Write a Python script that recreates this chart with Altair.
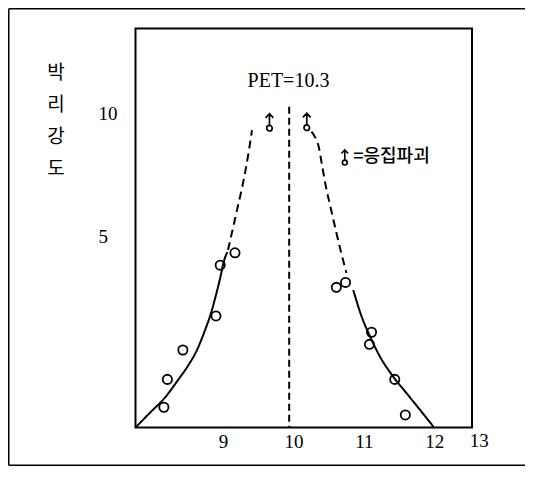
import altair as alt
import pandas as pd

# ---------------- data ----------------
x_ticks = [9, 10, 11, 12]
y_ticks = [5, 10]
x_extra_label = ["13"]
x_extra_pos = [12.64]

# measured circles
pts_x = [8.16, 8.21, 8.43, 8.90, 8.96, 9.17, 10.61, 10.74, 11.11, 11.08, 11.44, 11.59]
pts_y = [-1.91, -0.78, 0.41, 1.79, 3.85, 4.35, 2.95, 3.15, 1.13, 0.64, -0.78, -2.22]

# fitted curves
left_solid_x = [7.764, 7.96, 8.18, 8.36, 8.50, 8.63, 8.74, 8.83, 8.90, 8.96, 9.01, 9.06]
left_solid_y = [-2.71, -2.14, -1.50, -0.81, -0.24, 0.41, 1.18, 1.91, 2.64, 3.33, 3.98, 4.38]
left_dash_x = [9.071, 9.135, 9.199, 9.263, 9.320, 9.369, 9.412]
left_dash_y = [4.46, 5.27, 6.08, 6.89, 7.70, 8.51, 9.32]
right_dash_x = [10.257, 10.307, 10.357, 10.406, 10.463, 10.534, 10.605, 10.676, 10.754]
right_dash_y = [9.26, 9.04, 8.68, 7.91, 7.01, 6.12, 5.23, 4.38, 3.53]
right_solid_x = [10.85, 10.97, 11.09, 11.23, 11.40, 11.61, 11.80, 11.99]
right_solid_y = [2.84, 1.76, 0.95, 0.14, -0.60, -1.35, -2.02, -2.70]

# PET marker line
pet_x = [9.94]
pet_top = [10.27]
pet_label = ["PET=10.3"]
pet_label_x = [9.93]
pet_label_y = [11.32]

# cohesive failure markers
fail_x = [9.66, 10.19]
fail_y = [9.63, 9.65]
legend_sym_x = [10.73]
legend_sym_y = [8.21]
legend_text = ["=응집파괴"]
legend_text_x = [10.85]
legend_text_y = [8.22]

y_title = ["박", "리", "강", "도"]

X_DOM = [7.757, 12.537]
Y_DOM = [-2.73, 13.44]

# ---------------- chart ----------------
xs = alt.Scale(domain=X_DOM, nice=False, zero=False)
ys = alt.Scale(domain=Y_DOM, nice=False, zero=False)

SERIF = "Liberation Serif"
KR = "Noto Sans CJK KR"

rows = []
for seg, style, xa, ya in [
    ("ls", "solid", left_solid_x, left_solid_y),
    ("ld", "dashed", left_dash_x, left_dash_y),
    ("rd", "dashed", right_dash_x, right_dash_y),
    ("rs", "solid", right_solid_x, right_solid_y),
]:
    for a, b in zip(xa, ya):
        rows.append({"seg": seg, "style": style, "x": a, "y": b})
curves = pd.DataFrame(rows)

x_axis = alt.Axis(values=x_ticks, format="d", title=None, grid=False, domain=False, ticks=False,
                  tickSize=0, labelFont=SERIF, labelFontSize=19, labelColor="black",
                  labelPadding=13.5, labelBaseline="middle", labelFlush=False,
                  labelOverlap=False)
y_axis = alt.Axis(values=y_ticks, format="d", title=y_title, titleAngle=0, titleX=-80,
                  titleY=43.5, titleAlign="center", titleBaseline="middle",
                  titleLineHeight=32.2, titleFont=KR, titleFontSize=19,
                  titleFontWeight="normal", titleColor="black", grid=False, domain=False,
                  ticks=False, tickSize=0, labelFont=SERIF, labelFontSize=19,
                  labelColor="black", labelAlign="left", labelPadding=37.5,
                  labelBaseline="middle", labelOverlap=False)

lines = alt.Chart(curves).mark_line(color="black", strokeWidth=2, interpolate="monotone").encode(
    x=alt.X("x:Q", scale=xs, axis=x_axis),
    y=alt.Y("y:Q", scale=ys, axis=y_axis),
    detail="seg:N",
    strokeDash=alt.StrokeDash("style:N",
                              scale=alt.Scale(domain=["solid", "dashed"], range=[[1, 0], [8, 5]]),
                              legend=None),
)

pet_df = pd.DataFrame({"x": pet_x, "y": pet_top, "y2": [Y_DOM[0]]})
pet_rule = alt.Chart(pet_df).mark_rule(color="black", strokeWidth=2, strokeDash=[7, 4]).encode(
    x=alt.X("x:Q", scale=xs), y=alt.Y("y:Q", scale=ys), y2="y2:Q")

pts = alt.Chart(pd.DataFrame({"x": pts_x, "y": pts_y})).mark_point(
    shape="circle", filled=False, color="black", strokeWidth=1.8, size=85, opacity=1
).encode(x=alt.X("x:Q", scale=xs), y=alt.Y("y:Q", scale=ys))

FAIL_PATH = ("M -0.42 -0.5 L 0 -0.95 L 0.42 -0.5 M 0 -0.95 L 0 0.32 "
             "A 0.3 0.3 0 1 1 0 0.92 A 0.3 0.3 0 1 1 0 0.32")
fails = alt.Chart(pd.DataFrame({"x": fail_x, "y": fail_y})).mark_point(
    shape=FAIL_PATH, filled=False, color="black", strokeWidth=1.7, size=340, opacity=1
).encode(x=alt.X("x:Q", scale=xs), y=alt.Y("y:Q", scale=ys))

leg_sym = alt.Chart(pd.DataFrame({"x": legend_sym_x, "y": legend_sym_y})).mark_point(
    shape=FAIL_PATH, filled=False, color="black", strokeWidth=1.6, size=260, opacity=1
).encode(x=alt.X("x:Q", scale=xs), y=alt.Y("y:Q", scale=ys))

leg_txt = alt.Chart(pd.DataFrame({"x": legend_text_x, "y": legend_text_y, "t": legend_text})).mark_text(
    font=KR, fontSize=18, fontWeight=500, color="black", align="left", baseline="middle"
).encode(x=alt.X("x:Q", scale=xs), y=alt.Y("y:Q", scale=ys), text="t:N")

pet_txt = alt.Chart(pd.DataFrame({"x": pet_label_x, "y": pet_label_y, "t": pet_label})).mark_text(
    font=SERIF, fontSize=20, color="black", align="center", baseline="middle"
).encode(x=alt.X("x:Q", scale=xs), y=alt.Y("y:Q", scale=ys), text="t:N")

extra_lbl = alt.Chart(pd.DataFrame({"x": x_extra_pos, "y": [Y_DOM[0]], "t": x_extra_label})).mark_text(
    font=SERIF, fontSize=19, color="black", align="center", baseline="middle", dy=13.5
).encode(x=alt.X("x:Q", scale=xs), y=alt.Y("y:Q", scale=ys), text="t:N")

# outer page frame: left, top and bottom sides only
dummy = pd.DataFrame({"a": [0]})
frame_top = alt.Chart(dummy).mark_rule(color="black", strokeWidth=1.5).encode(
    x=alt.value(-126.75), x2=alt.value(389.5), y=alt.value(-19.75), y2=alt.value(-19.75))
frame_left = alt.Chart(dummy).mark_rule(color="black", strokeWidth=1.5).encode(
    x=alt.value(-126.75), x2=alt.value(-126.75), y=alt.value(-19.75), y2=alt.value(436.75))
frame_bottom = alt.Chart(dummy).mark_rule(color="black", strokeWidth=1.5).encode(
    x=alt.value(-126.75), x2=alt.value(389.5), y=alt.value(436.75), y2=alt.value(436.75))

chart = alt.layer(
    lines, pet_rule, pts, fails, leg_sym, leg_txt, pet_txt, extra_lbl,
    frame_top, frame_left, frame_bottom
).properties(
    width=336.5, height=399,
    autosize=alt.AutoSizeParams(type="none"),
    padding={"left": 127.5, "top": 20.5, "right": 53, "bottom": 38.5},
    background="white",
).configure_view(stroke="black", strokeWidth=2)

chart.save("out.html", embed_options={"renderer": "svg", "actions": False})
